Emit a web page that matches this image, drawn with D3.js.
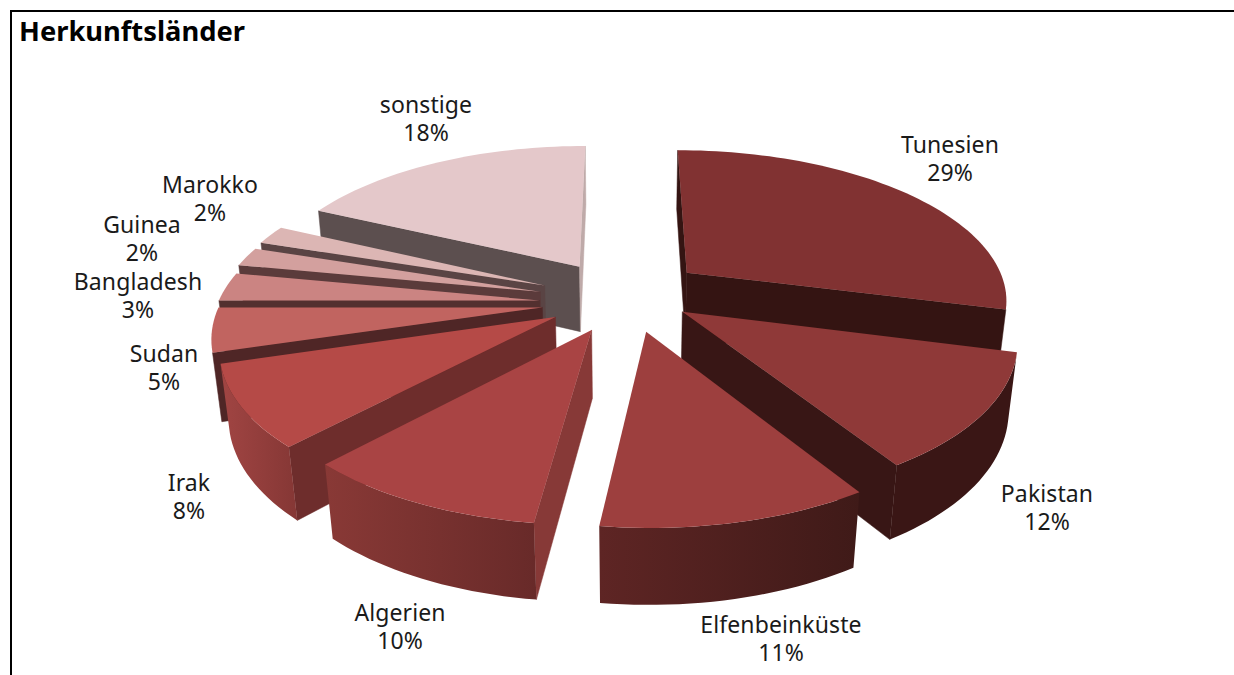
<!DOCTYPE html>
<html><head><meta charset="utf-8">
<script src="https://cdnjs.cloudflare.com/ajax/libs/d3/7.8.5/d3.min.js"></script>
<style>html,body{margin:0;padding:0;background:#fff;overflow:hidden}svg{display:block}</style>
</head><body><svg id="c" width="1234" height="675"><defs id="d"></defs></svg>
<script>
const categories = ["Tunesien","Pakistan","Elfenbeinküste","Algerien","Irak","Sudan","Bangladesh","Guinea","Marokko","sonstige"];
const shares = [29,12,11,10,8.4,4.6,3,2,2,18];
const explode = [84,67,80,80,80,80,80,80,80,80];
const topColors = ["#813232","#8f3938","#9d3f3e","#a94444","#b54a47","#c16460","#cb8482","#d3a09e","#dcb6b4","#e4c8ca"];
const startWallColors = ["#341412","#381615","#4a1e1c","#873937","#6e2d2c","#4f2626","#53302f","#5b3b3b","#5a4444","#5c4f4f"];
const endWallColors = ["#341412","#381615","#4a1e1c","#873937","#6e2d2c","#4f2626","#53302f","#5b3b3b","#5a4444","#bfaaa9"];
const wallLeft = ["#341412","#3a1615","#5e2524","#893936","#a14543","#4f2626","#53302f","#5b3b3b","#5a4444","#5c4f4f"];
const wallRight = ["#341412","#3a1615","#3f1a18","#682a29","#853735","#4f2626","#53302f","#5b3b3b","#5a4444","#5c4f4f"];
const labelX = [950,1047,781,400,189,164,138,142,210,426];
const labelY = [145,494,625,613,483,354,282,225,185,105];
const nudgeX = [0,5,6,5,3,0,-3,-5,-4,-1];
const nudgeY = [-2,-5,-4,-3,-1,4,6,3,1,-1];
const drawOrder = [0,9,8,7,6,5,4,3,1,2];

const R=322, cx=622, cy=298, k=0.465, persp=0.000512, H=68, e=0.022;
const svg=d3.select("#c"), defs=d3.select("#d");
function proj(u,v,z){const s=1/(1+persp*v+e*z);return [cx+u*s, cy+(-v*k+H*z)*s];}
const arcs=d3.pie().sort(null).startAngle(0).endAngle(2*Math.PI)(shares);
const line=d3.line().curve(d3.curveLinearClosed);
const area=q=>{let t=0;q.forEach((p,i)=>{const n=q[(i+1)%q.length];t+=p[0]*n[1]-n[0]*p[1];});return t;};

drawOrder.forEach(i=>{
  const a=arcs[i], mid=(a.startAngle+a.endAngle)/2;
  const ox=explode[i]*Math.sin(mid), oy=explode[i]*Math.cos(mid);
  const n=Math.max(4,Math.round((a.endAngle-a.startAngle)/(Math.PI/110)));
  const angs=d3.range(n+1).map(j=>a.startAngle+(a.endAngle-a.startAngle)*j/n);
  const rim=angs.map(t=>[ox+R*Math.sin(t),oy+R*Math.cos(t)]);
  const apex=[ox,oy];
  const g=svg.append("g").attr("class","slice").attr("transform",`translate(${nudgeX[i]},${nudgeY[i]})`);
  const quad=(p,q)=>[proj(p[0],p[1],0),proj(q[0],q[1],0),proj(q[0],q[1],1),proj(p[0],p[1],1)];
  const drawQ=(q,c)=>{ if(area(q)<0) g.append("path").attr("d",line(q)).attr("fill",c).attr("stroke",c).attr("stroke-width",0.5); };
  drawQ(quad(apex,rim[0]),startWallColors[i]);
  drawQ(quad(rim[n],apex),endWallColors[i]);
  const vis=d3.range(n).filter(j=>area(quad(rim[j],rim[j+1]))<0);
  if(vis.length){
    const jn=vis[0], jx=vis[vis.length-1]+1;
    const seg=rim.slice(jn,jx+1);
    const poly=seg.map(p=>proj(p[0],p[1],0)).concat(seg.slice().reverse().map(p=>proj(p[0],p[1],1)));
    const ext=d3.extent(poly,p=>p[0]);
    const id="w"+i;
    const gr=defs.append("linearGradient").attr("id",id).attr("gradientUnits","userSpaceOnUse")
      .attr("x1",ext[0]).attr("x2",ext[1]).attr("y1",0).attr("y2",0);
    gr.append("stop").attr("offset",0).attr("stop-color",wallLeft[i]);
    gr.append("stop").attr("offset",1).attr("stop-color",wallRight[i]);
    g.append("path").attr("d",line(poly)).attr("fill",`url(#${id})`);
  }
  const top=[proj(apex[0],apex[1],0)].concat(rim.map(p=>proj(p[0],p[1],0)));
  g.append("path").attr("d",line(top)).attr("fill",topColors[i]);
});

const font="'Noto Sans',sans-serif";
categories.forEach((c,i)=>{
  const t=svg.append("text").attr("text-anchor","middle").attr("font-family",font)
    .attr("font-size",23).attr("letter-spacing",0.1).attr("fill","#1a1a1a");
  t.append("tspan").attr("x",labelX[i]).attr("y",labelY[i]+8).text(c);
  t.append("tspan").attr("x",labelX[i]).attr("y",labelY[i]+36).text(Math.round(shares[i])+"%");
});
svg.append("text").attr("x",19).attr("y",41).attr("font-family",font).attr("font-weight",700)
  .attr("font-size",27.3).attr("fill","#000").text("Herkunftsländer");
svg.append("path").attr("d",d3.line()([[1234,11],[11,11],[11,675]])).attr("fill","none").attr("stroke","#000").attr("stroke-width",2);
</script></body></html>
